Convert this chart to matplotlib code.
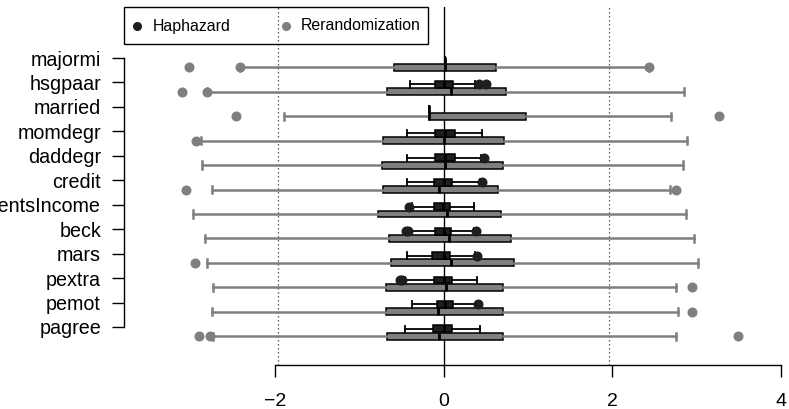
import numpy as np
import matplotlib
matplotlib.use("Agg")
import matplotlib.pyplot as plt
from matplotlib.patches import Rectangle
from matplotlib.lines import Line2D

plt.rcParams['font.family'] = ['Liberation Sans', 'DejaVu Sans']

categories = ["majormi", "hsgpaar", "married", "momdegr", "daddegr", "credit",
              "parentsIncome", "beck", "mars", "pextra", "pemot", "pagree"]

# Haphazard (black) box statistics
hap_q1 = [0.02, -0.10, -0.17, -0.10, -0.10, -0.11, -0.11, -0.10, -0.14, -0.11, -0.085, -0.13]
hap_med = [0.02, 0.00, -0.17, 0.02, 0.01, 0.00, -0.01, 0.00, 0.00, 0.00, 0.01, 0.00]
hap_q3 = [0.02, 0.11, -0.17, 0.13, 0.13, 0.10, 0.08, 0.09, 0.07, 0.10, 0.11, 0.10]
hap_lo = [0.02, -0.405, -0.17, -0.44, -0.44, -0.44, -0.38, -0.40, -0.43, -0.46, -0.37, -0.46]
hap_hi = [0.02, 0.37, -0.17, 0.46, 0.44, 0.43, 0.36, 0.36, 0.37, 0.40, 0.39, 0.43]
hap_out = [[], [0.415, 0.50], [], [], [0.48], [0.46], [-0.41], [-0.45, -0.42, 0.385],
           [0.40], [-0.52, -0.49], [0.41], []]

# Rerandomization (gray) box statistics
rer_q1 = [-0.595, -0.67, -0.17, -0.72, -0.73, -0.72, -0.78, -0.65, -0.625, -0.68, -0.68, -0.67]
rer_med = [0.01, 0.09, -0.17, 0.00, 0.01, -0.06, 0.04, 0.06, 0.09, 0.03, -0.07, -0.05]
rer_q3 = [0.626, 0.74, 0.98, 0.72, 0.705, 0.65, 0.685, 0.80, 0.835, 0.70, 0.705, 0.70]
rer_lo = [-2.42, -2.81, -1.89, -2.88, -2.87, -2.75, -2.97, -2.83, -2.81, -2.74, -2.75, -2.73]
rer_hi = [2.44, 2.85, 2.70, 2.88, 2.84, 2.68, 2.87, 2.97, 3.02, 2.75, 2.78, 2.75]
rer_out = [[-3.02, -2.42, 2.44], [-3.10, -2.81], [-2.46, 3.26], [-2.94], [], [-3.06, 2.76],
           [], [], [-2.95], [2.94], [2.94], [-2.90, -2.77, 3.49]]

x_ticks = [-2, 0, 2, 4]
crit = 1.96

W, H = 789, 409
fig = plt.figure(figsize=(W / 100, H / 100), dpi=100)
ax = fig.add_axes([124 / W, 1 - 365 / H, 1 - 124 / W, (365 - 7) / H])

n = len(categories)
pos = np.arange(n)


def stats(q1, med, q3, lo, hi, out):
    return [dict(q1=a, med=b, q3=c, whislo=d, whishi=e, fliers=np.array(f, dtype=float))
            for a, b, c, d, e, f in zip(q1, med, q3, lo, hi, out)]


gray = '#7f7f7f'
dark = '#1e1e1e'

ax.axvline(0, color='black', lw=1.0, zorder=1)
for v in (-crit, crit):
    ax.axvline(v, color='#333333', lw=0.9, linestyle=(0, (1, 2.2)), zorder=1)

ax.bxp(stats(rer_q1, rer_med, rer_q3, rer_lo, rer_hi, rer_out), positions=pos + 0.38,
       widths=0.28, orientation='horizontal', patch_artist=True, manage_ticks=False,
       boxprops=dict(facecolor=gray, edgecolor='black', linewidth=1.1),
       medianprops=dict(color='black', linewidth=2.0),
       whiskerprops=dict(color=gray, linewidth=1.8),
       capprops=dict(color=gray, linewidth=1.8), capwidths=0.30,
       flierprops=dict(marker='o', markerfacecolor=gray, markeredgecolor=gray,
                       markersize=6.2, linestyle='none'))

ax.bxp(stats(hap_q1, hap_med, hap_q3, hap_lo, hap_hi, hap_out), positions=pos + 0.08,
       widths=0.28, orientation='horizontal', patch_artist=True, manage_ticks=False,
       boxprops=dict(facecolor=dark, edgecolor='black', linewidth=1.1),
       medianprops=dict(color='black', linewidth=2.0),
       whiskerprops=dict(color='black', linewidth=1.3),
       capprops=dict(color='black', linewidth=1.3), capwidths=0.26,
       flierprops=dict(marker='o', markerfacecolor=dark, markeredgecolor=dark,
                       markersize=6.2, linestyle='none'))

ax.set_xlim(-3.791, 4.095)
ax.set_ylim(12.556, -2.086)

for s in ('top', 'right'):
    ax.spines[s].set_visible(False)
ax.spines['bottom'].set_bounds(x_ticks[0], x_ticks[-1])
ax.spines['left'].set_bounds(0, n - 1)
ax.spines['bottom'].set_linewidth(1.0)
ax.spines['left'].set_linewidth(1.0)

ax.set_xticks(x_ticks)
ax.set_xticklabels(["\u2212" + str(abs(t)) if t < 0 else str(t) for t in x_ticks])
ax.set_yticks(pos)
ax.set_yticklabels(categories)
ax.tick_params(axis='x', length=8.6, width=1.0, pad=11.5, labelsize=14)
ax.tick_params(axis='y', length=8.6, width=1.0, pad=8, labelsize=14.2)

# legend (drawn in figure pixel coordinates)
def fx(px):
    return px / W


def fy(py):
    return 1 - py / H


fig.add_artist(Rectangle((fx(124), fy(44)), fx(428) - fx(124), fy(7) - fy(44),
                         transform=fig.transFigure, fill=False, edgecolor='black', lw=1.0))
legend_items = [("Haphazard", dark, 137, 153), ("Rerandomization", gray, 286, 301)]
for label, col, mx, tx in legend_items:
    fig.add_artist(Line2D([fx(mx)], [fy(26)], marker='o', markersize=5.5, color=col,
                          linestyle='none', transform=fig.transFigure))
    fig.text(fx(tx), fy(26), label, fontsize=11.4, va='center', ha='left')

fig.savefig("out.png", dpi=100)
